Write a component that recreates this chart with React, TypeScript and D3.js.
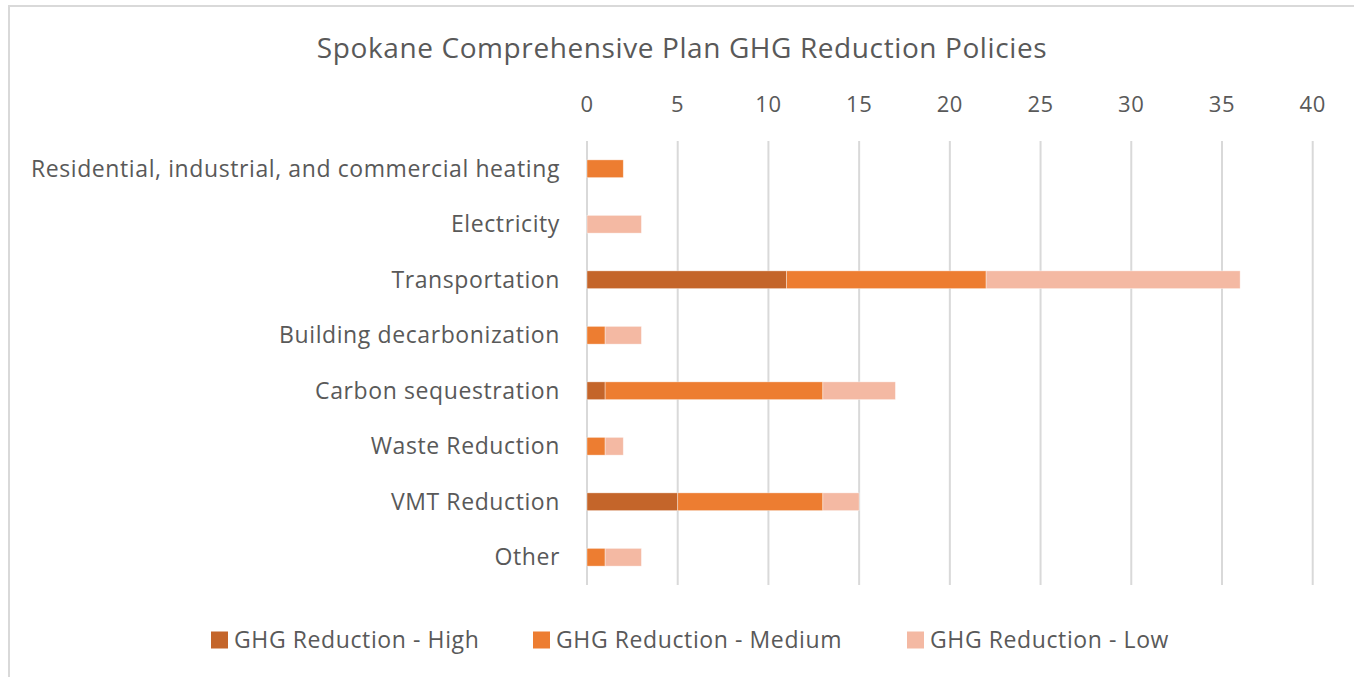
import React from 'react';
import * as d3 from 'd3';

const title = 'Spokane Comprehensive Plan GHG Reduction Policies';
const categories = [
    'Residential, industrial, and commercial heating',
    'Electricity',
    'Transportation',
    'Building decarbonization',
    'Carbon sequestration',
    'Waste Reduction',
    'VMT Reduction',
    'Other'
];
const seriesNames = ['GHG Reduction - High', 'GHG Reduction - Medium', 'GHG Reduction - Low'];
const highValues = [0, 0, 11, 0, 1, 0, 5, 0];
const mediumValues = [2, 0, 11, 1, 12, 1, 8, 1];
const lowValues = [0, 3, 14, 2, 4, 1, 2, 2];
const xTicks = [0, 5, 10, 15, 20, 25, 30, 35, 40];
const colors = ['#C4652A', '#ED7D31', '#F4B9A3'];

const W = 1354, H = 677;
const font = '"Open Sans", sans-serif';
const textColor = '#595959';
const ls = 0.6; // letter spacing to mimic the wider original face

export default function App() {
    const rows = categories.map((c, i) => ({
        cat: c, high: highValues[i], medium: mediumValues[i], low: lowValues[i]
    }));
    const keys = ['high', 'medium', 'low'];
    const stacked = d3.stack<any>().keys(keys)(rows);

    const x = d3.scaleLinear().domain([0, 40]).range([587, 1312.7]);
    const y = d3.scaleBand().domain(categories).range([141, 585]).padding(0);
    const barH = y.bandwidth() * 0.32;

    // legend layout (square + label)
    const legendX = [211, 533, 907];

    return (
        <div style={{ position: 'absolute', left: 0, top: 0 }}>
            <svg width={W} height={H} style={{ display: 'block', fontFamily: font }}>
                <rect x={0} y={0} width={W} height={H} fill="#fff" />
                <rect x={9} y={6} width={W + 40} height={H + 40} fill="none" stroke="#D9D9D9" strokeWidth={2} />
                <text x={682} y={58} textAnchor="middle" fontSize={28} letterSpacing={ls} fill={textColor}>{title}</text>

                {xTicks.map(t => (
                    <g key={t}>
                        <line x1={x(t)} x2={x(t)} y1={141} y2={585} stroke="#D9D9D9" strokeWidth={2} />
                        <text x={x(t)} y={112} textAnchor="middle" fontSize={22} letterSpacing={ls} fill={textColor}>{t}</text>
                    </g>
                ))}

                {stacked.map((s, si) => (
                    <g key={s.key} fill={colors[si]}>
                        {s.map((d, i) => {
                            const w = x(d[1]) - x(d[0]);
                            if (w <= 0) return null;
                            return (
                                <rect key={i}
                                    x={x(d[0])}
                                    y={(y(categories[i]) as number) + (y.bandwidth() - barH) / 2}
                                    width={w}
                                    height={barH}
                                    stroke="#fff"
                                    strokeOpacity={0.5}
                                    strokeWidth={0.75}
                                />
                            );
                        })}
                    </g>
                ))}

                {categories.map(c => (
                    <text key={c} x={560} y={(y(c) as number) + y.bandwidth() / 2 + 8}
                        textAnchor="end" fontSize={23} letterSpacing={ls} fill={textColor}>{c}</text>
                ))}

                {seriesNames.map((n, i) => (
                    <g key={n} transform={`translate(${legendX[i]},640)`}>
                        <rect x={0} y={-8.5} width={17} height={17} fill={colors[i]} />
                        <text x={23} y={8} fontSize={23} letterSpacing={ls} fill={textColor}>{n}</text>
                    </g>
                ))}
            </svg>
        </div>
    );
}
